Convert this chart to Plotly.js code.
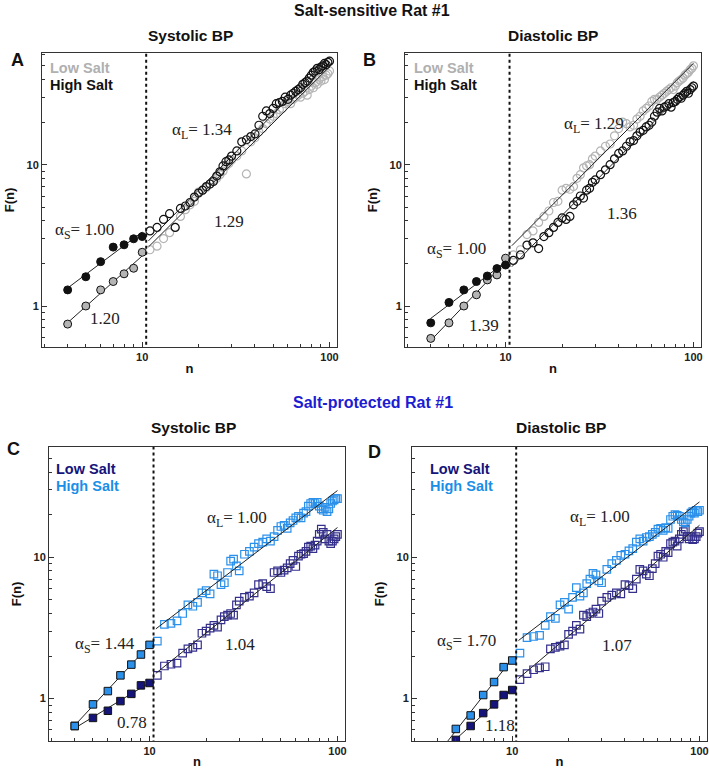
<!DOCTYPE html>
<html>
<head>
<meta charset="utf-8">
<script src="https://cdn.plot.ly/plotly-3.0.1.min.js"></script>
<style>
  html, body { margin: 0; padding: 0; background: #fff; }
  #chart { width: 709px; height: 769px; }
</style>
</head>
<body>
<div id="chart"></div>
<script>
// window scales (n) used by every panel
var nShort = [4, 5, 6, 7, 8, 9, 10];
var nShortD = [5, 6, 7, 8, 9, 10];
var nLong = [11, 12, 13, 14, 15, 16, 17, 18, 19, 20, 21, 22, 23, 24, 25, 26, 27, 28, 29, 30,
  32, 34, 36, 38, 40, 42, 44, 46, 48, 50, 52, 54, 56, 58, 60, 62, 64, 66, 68, 70,
  72, 74, 76, 78, 80, 82, 84, 86, 88, 90, 92, 94, 96, 98, 100];
var nBreak = 10.5;

// Panel A - salt-sensitive, systolic
var aHighShort = [1.30, 1.61, 2.06, 2.61, 2.71, 2.99, 3.10];
var aLowShort = [0.745, 1.00, 1.30, 1.49, 1.69, 1.85, 2.40];
var aHighLong = [3.4, 3.6, 4.1, 4.5, 3.6, 4.9, 5.1, 5.4, 5.9, 6.3, 6.6, 7.0, 7.3, 7.6, 8.3, 8.9, 9.8, 10.5, 10.8, 11.5,
  12.5, 14.5, 15.0, 15.8, 16.5, 19, 22, 24, 23, 25, 27, 27.5, 28, 30, 29, 31, 32, 33, 34, 35,
  37, 38, 39, 41, 43, 45, 46, 48, 47, 49, 50, 52, 51, 53, 54];
var aLowLong = [2.5, 2.65, 3.0, 3.3, 3.6, 4.3, 4.8, 5.2, 5.5, 6.4, 6.6, 6.9, 7.3, 7.7, 8.0, 8.5, 9.0, 9.8, 10.2, 10.8,
  11.5, 12.5, 8.6, 14.5, 15.5, 17, 18, 19.5, 21, 22, 23, 24.5, 25, 27, 28, 27, 29, 30, 31, 30,
  32, 33, 31, 34, 36, 35, 38, 37, 40, 39, 42, 40, 43, 44, 46];

// Panel B - salt-sensitive, diastolic
var bHighShort = [0.76, 1.06, 1.30, 1.49, 1.63, 1.84, 1.95];
var bLowShort = [0.59, 0.76, 1.00, 1.20, 1.53, 1.66, 2.18];
var bHighLong = [2.1, 2.3, 2.7, 2.8, 2.55, 3.1, 3.3, 3.6, 3.9, 4.2, 4.1, 4.3, 5.2, 5.5, 6.0, 5.8, 6.6, 6.8, 7.5, 7.8,
  8.5, 9.2, 10.0, 11.0, 12.0, 12.5, 13.5, 14.5, 14.8, 16, 17, 17.5, 18.5, 19, 20, 22, 23.5, 25, 24, 25.5,
  26, 27, 25.5, 27.5, 28, 29, 30, 29.5, 31, 32, 33, 32, 34, 35, 36];
var bLowLong = [2.3, 2.5, 3.2, 3.4, 3.9, 4.3, 4.7, 5.4, 5.5, 6.6, 6.8, 6.7, 7.0, 8.0, 8.5, 9.5, 9.8, 10.0, 11.0, 11.5,
  12.5, 13.5, 14.0, 16, 18, 20, 19.5, 18.5, 19, 21, 22, 24, 25, 26, 28, 29, 29, 30, 31, 32,
  33, 34, 35, 34, 36, 38, 39, 40, 41, 43, 44, 45, 47, 48, 50];

// Panel C - salt-protected, systolic
var cHighShort = [0.64, 0.91, 1.13, 1.46, 1.74, 2.05, 2.40];
var cLowShort = [0.64, 0.73, 0.82, 0.96, 1.08, 1.24, 1.29];
var cHighLong = [2.55, 3.35, 3.4, 3.55, 4.0, 4.6, 4.5, 4.8, 5.6, 5.8, 5.5, 7.6, 7.4, 6.4, 6.6, 7.8, 9.4, 9.7, 8.7, 8.0,
  10.5, 11.0, 11.8, 12.5, 12.8, 13.5, 13.0, 14.0, 15.5, 16.5, 16.8, 16.0, 17.5, 18.2, 19.0, 19.5, 19.0, 20.5, 21.0, 23.0,
  24.0, 24.5, 24.0, 24.5, 23.0, 22.0, 21.5, 22.5, 21.0, 22.0, 24.0, 25.0, 25.5, 26.0, 26.0];
var cLowLong = [1.46, 1.7, 1.75, 1.78, 2.1, 2.25, 2.3, 2.4, 2.9, 3.0, 3.15, 3.3, 3.2, 3.6, 3.8, 3.9, 4.0, 3.9, 4.6, 4.9,
  5.2, 5.3, 5.6, 6.4, 6.5, 6.2, 6.0, 7.8, 8.0, 7.8, 8.1, 8.4, 9.0, 9.5, 8.6, 10.2, 10.5, 10.6, 11.0, 11.8,
  12.0, 11.5, 12.2, 13.0, 14.5, 15.8, 15.0, 13.5, 14.5, 13.0, 12.5, 13.0, 13.5, 14.0, 14.5];

// Panel D - salt-protected, diastolic
var dHighShort = [0.61, 0.76, 1.06, 1.31, 1.67, 1.86];
var dLowShort = [0.51, 0.64, 0.79, 0.91, 1.06, 1.15];
var dHighLong = [2.1, 2.7, 2.75, 2.8, 3.3, 3.8, 3.7, 4.6, 4.8, 4.3, 5.2, 6.1, 5.3, 5.6, 6.5, 7.0, 7.7, 7.5, 6.8, 6.6,
  8.2, 9.0, 9.5, 10.3, 10.5, 11.1, 11.5, 12.8, 13.5, 13.0, 13.8, 14.0, 14.5, 15.0, 15.8, 16.0, 15.5, 16.2, 16.0, 18.5,
  19.5, 20.0, 19.8, 19.5, 18.5, 17.8, 17.5, 18.5, 19.5, 20.5, 21.0, 20.5, 21.5, 21.0, 21.5];
var dLowLong = [1.36, 1.5, 1.6, 1.65, 1.68, 2.25, 2.3, 2.35, 2.4, 2.85, 3.0, 3.3, 3.1, 3.9, 3.8, 4.0, 4.1, 4.3, 4.0, 4.9,
  5.2, 5.4, 5.6, 5.5, 6.4, 6.3, 6.0, 7.0, 8.2, 8.0, 7.6, 7.4, 8.3, 9.0, 10.2, 10.5, 10.0, 11.0, 10.8, 12.5,
  12.8, 13.0, 12.0, 13.5, 14.5, 15.2, 15.8, 14.0, 13.5, 14.0, 13.3, 13.5, 14.0, 14.8, 15.2];

var W = 709, H = 769;
function px(x) { return x / W; }
function py(y) { return 1 - y / H; }

// least squares on log-log, returns a two point line over [n0, n1]
function fitLine(ns, fs, n0, n1) {
  var lx = ns.map(function (v) { return Math.log10(v); });
  var ly = fs.map(function (v) { return Math.log10(v); });
  var k = lx.length, sx = 0, sy = 0, sxx = 0, sxy = 0;
  for (var i = 0; i < k; i++) {
    sx += lx[i]; sy += ly[i]; sxx += lx[i] * lx[i]; sxy += lx[i] * ly[i];
  }
  var b = (k * sxy - sx * sy) / (k * sxx - sx * sx);
  var a = (sy - b * sx) / k;
  return {
    x: [n0, n1],
    y: [Math.pow(10, a + b * Math.log10(n0)), Math.pow(10, a + b * Math.log10(n1))]
  };
}

var gray = '#b4b4b4', black = '#111111';
var light = '#2a90ea', navy = '#14147a';
var navyOpen = '#35308c';

var panels = [
  { sfx: '', nS: nShort, hiS: aHighShort, loS: aLowShort, hiL: aHighLong, loL: aLowLong, sq: false },
  { sfx: '2', nS: nShort, hiS: bHighShort, loS: bLowShort, hiL: bHighLong, loL: bLowLong, sq: false },
  { sfx: '3', nS: nShort, hiS: cHighShort, loS: cLowShort, hiL: cHighLong, loL: cLowLong, sq: true },
  { sfx: '4', nS: nShortD, hiS: dHighShort, loS: dLowShort, hiL: dHighLong, loL: dLowLong, sq: true }
];

var data = [];
panels.forEach(function (p) {
  var xa = 'x' + p.sfx, ya = 'y' + p.sfx;
  var hiCol = p.sq ? light : black;
  var loCol = p.sq ? navy : gray;
  var loOpen = p.sq ? navyOpen : gray;
  var openSym = p.sq ? 'square-open' : 'circle-open';
  var fillSym = p.sq ? 'square' : 'circle';
  var sz = p.sq ? 7.5 : 8;

  // open markers (long range)
  data.push({ x: nLong, y: p.loL, xaxis: xa, yaxis: ya, mode: 'markers', type: 'scatter',
    marker: { symbol: openSym, size: sz, color: loOpen, line: { width: 1.2 } } });
  data.push({ x: nLong, y: p.hiL, xaxis: xa, yaxis: ya, mode: 'markers', type: 'scatter',
    marker: { symbol: openSym, size: sz, color: hiCol, line: { width: 1.2 } } });

  // fit lines
  [fitLine(nLong, p.loL, 10.8, 100), fitLine(nLong, p.hiL, 10.8, 100),
   fitLine(p.nS, p.loS, 4, 10), fitLine(p.nS, p.hiS, 4, 10)].forEach(function (f) {
    data.push({ x: f.x, y: f.y, xaxis: xa, yaxis: ya, mode: 'lines', type: 'scatter',
      line: { color: '#222', width: 1 } });
  });

  // filled markers (short range)
  data.push({ x: p.nS, y: p.loS, xaxis: xa, yaxis: ya, mode: 'markers', type: 'scatter',
    marker: { symbol: fillSym, size: sz, color: loCol, line: { width: 1, color: '#111' } } });
  data.push({ x: p.nS, y: p.hiS, xaxis: xa, yaxis: ya, mode: 'markers', type: 'scatter',
    marker: { symbol: fillSym, size: sz, color: hiCol, line: { width: 1, color: '#111' } } });

  // crossover n
  data.push({ x: [nBreak, nBreak], y: [0.2, 200], xaxis: xa, yaxis: ya, mode: 'lines', type: 'scatter',
    line: { color: '#111', width: 2, dash: 'dot' } });
});

var tickFont = { family: 'Arial, Liberation Sans', size: 11, color: '#222', weight: 'bold' };
var titleFont = { family: 'Arial, Liberation Sans', size: 13, color: '#111', weight: 'bold' };

function xAxis(d, anchor) {
  return {
    type: 'log', domain: [px(d[0]), px(d[1])], range: [0.465, 2.04], anchor: anchor,
    showgrid: false, zeroline: false, showline: true, linecolor: '#333', linewidth: 1, mirror: true,
    ticks: 'inside', ticklen: 5, tickcolor: '#333',
    tickmode: 'array', tickvals: [10, 100], ticktext: ['10', '100'], tickfont: tickFont,
    minor: { ticks: 'inside', ticklen: 3, tickcolor: '#333', tickmode: 'array',
      tickvals: [3, 4, 5, 6, 7, 8, 9, 20, 30, 40, 50, 60, 70, 80, 90] },
    title: { text: 'n', font: titleFont, standoff: 1 }
  };
}
function yAxis(d, r, anchor) {
  return {
    type: 'log', domain: [py(d[1]), py(d[0])], range: r, anchor: anchor,
    showgrid: false, zeroline: false, showline: true, linecolor: '#333', linewidth: 1, mirror: true,
    ticks: 'inside', ticklen: 5, tickcolor: '#333',
    tickmode: 'array', tickvals: [1, 10], ticktext: ['1', '10'], tickfont: tickFont,
    minor: { ticks: 'inside', ticklen: 3, tickcolor: '#333', tickmode: 'array',
      tickvals: [0.6, 0.7, 0.8, 0.9, 2, 3, 4, 5, 6, 7, 8, 9, 20, 30, 40, 50, 60] },
    title: { text: 'F(n)', font: titleFont, standoff: 8 }
  };
}

var annotations = [];
function txt(t, x, y, font, anchor) {
  annotations.push({ text: t, x: px(x), y: py(y), xref: 'paper', yref: 'paper',
    xanchor: anchor || 'left', yanchor: 'middle', showarrow: false, font: font });
}
var bold = function (s, c) { return { family: 'Arial, Liberation Sans', size: s, color: c || '#111', weight: 'bold' }; };
var serif = { family: 'Liberation Serif, Times New Roman', size: 17, color: '#222' };

txt('Salt-sensitive Rat #1', 372, 11, bold(16), 'center');
txt('Salt-protected Rat #1', 373, 402, bold(16, '#1c1cd2'), 'center');
txt('Systolic BP', 190, 35, bold(15.5), 'center');
txt('Diastolic BP', 553, 35, bold(15.5), 'center');
txt('Systolic BP', 193, 427, bold(15.5), 'center');
txt('Diastolic BP', 561, 427, bold(15.5), 'center');
txt('A', 9, 60, bold(18));
txt('B', 361, 60, bold(18));
txt('C', 5, 449, bold(18));
txt('D', 366, 452, bold(18));

txt('Low Salt', 48, 68, bold(14.5, '#b0b0b0'));
txt('High Salt', 48, 85, bold(14.5, '#111'));
txt('Low Salt', 412, 68, bold(14.5, '#b0b0b0'));
txt('High Salt', 412, 85, bold(14.5, '#111'));
txt('Low Salt', 54, 469, bold(14.5, navy));
txt('High Salt', 54, 486, bold(14.5, '#1a8fe8'));
txt('Low Salt', 428, 469, bold(14.5, navy));
txt('High Salt', 428, 486, bold(14.5, '#1a8fe8'));

txt('α<sub>S</sub>= 1.00', 53, 231, serif);
txt('1.20', 88, 318, serif);
txt('α<sub>L</sub>= 1.34', 170, 131, serif);
txt('1.29', 212, 222, serif);

txt('α<sub>S</sub>= 1.00', 425, 250, serif);
txt('1.39', 467, 325, serif);
txt('α<sub>L</sub>= 1.29', 562, 125, serif);
txt('1.36', 605, 213, serif);

txt('α<sub>S</sub>= 1.44', 73, 645, serif);
txt('0.78', 115, 722, serif);
txt('α<sub>L</sub>= 1.00', 205, 519, serif);
txt('1.04', 223, 644, serif);

txt('α<sub>S</sub>= 1.70', 435, 642, serif);
txt('1.18', 483, 725, serif);
txt('α<sub>L</sub>= 1.00', 568, 518, serif);
txt('1.07', 600, 645, serif);

var layout = {
  width: W, height: H,
  margin: { l: 0, r: 0, t: 0, b: 0 },
  paper_bgcolor: '#fff', plot_bgcolor: '#fff',
  showlegend: false,
  xaxis: xAxis([42, 337], 'y'),
  yaxis: yAxis([53, 347], [-0.29, 1.79], 'x'),
  xaxis2: xAxis([405, 701], 'y2'),
  yaxis2: yAxis([53, 347], [-0.29, 1.79], 'x2'),
  xaxis3: xAxis([49, 345], 'y3'),
  yaxis3: yAxis([447, 741], [-0.30, 1.78], 'x3'),
  xaxis4: xAxis([412, 707], 'y4'),
  yaxis4: yAxis([447, 741], [-0.30, 1.78], 'x4'),
  annotations: annotations
};

Plotly.newPlot('chart', data, layout, { displayModeBar: false });
</script>
</body>
</html>
